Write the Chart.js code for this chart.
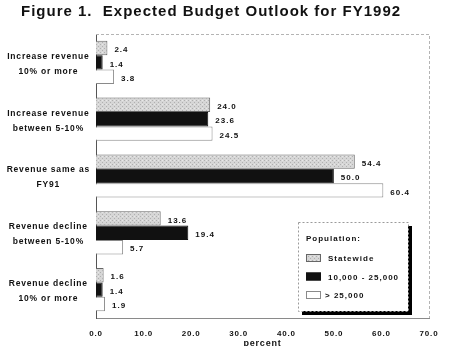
<!DOCTYPE html>
<html>
<head>
<meta charset="utf-8">
<script src="https://cdn.jsdelivr.net/npm/chart.js@4"></script>
<style>
  html, body { margin: 0; padding: 0; background: #fff; }
</style>
</head>
<body>
<canvas id="chart" width="450" height="346"></canvas>
<script>
// Data
const categories = [
    ['Increase revenue', '10% or more'],
    ['Increase revenue', 'between 5-10%'],
    ['Revenue same as', 'FY91'],
    ['Revenue decline', 'between 5-10%'],
    ['Revenue decline', '10% or more']
];
const seriesNames = ['Statewide', '10,000 - 25,000', '> 25,000'];
const statewide = [2.4, 24.0, 54.4, 13.6, 1.6];
const midTowns = [1.4, 23.6, 50.0, 19.4, 1.4];
const bigTowns = [3.8, 24.5, 60.4, 5.7, 1.9];
const xMin = 0, xMax = 70, xStep = 10;
const chartTitle = 'Figure 1.  Expected Budget Outlook for FY1992';

const FONT = "'Liberation Sans', Arial, sans-serif";

// stippled grey fill for the statewide bars
function stipple() {
    const c = document.createElement('canvas');
    c.width = 4; c.height = 4;
    const g = c.getContext('2d');
    g.fillStyle = '#d6d6d6';
    g.fillRect(0, 0, 4, 4);
    g.fillStyle = '#b0b0b0';
    g.fillRect(0, 0, 1, 1);
    g.fillRect(2, 2, 1, 1);
    g.fillStyle = '#e8e8e8';
    g.fillRect(2, 0, 1, 1);
    return g.createPattern(c, 'repeat');
}
const greyFill = stipple();

const spacing = {
    id: 'spacing',
    beforeLayout(chart) { chart.ctx.letterSpacing = '0.8px'; },
    beforeDraw(chart) { chart.ctx.letterSpacing = '0.8px'; }
};

const titleText = {
    id: 'titleText',
    afterDraw(chart) {
        const ctx = chart.ctx;
        ctx.save();
        ctx.letterSpacing = '1px';
        ctx.font = 'bold 15px ' + FONT;
        ctx.fillStyle = '#111';
        ctx.textBaseline = 'middle';
        ctx.fillText(chartTitle, 21, 12);
        ctx.restore();
    }
};

const frame = {
    id: 'frame',
    beforeDatasetsDraw(chart) {
        const { ctx, chartArea: a } = chart;
        ctx.save();
        ctx.strokeStyle = '#b4b4b4';
        ctx.lineWidth = 1;
        ctx.setLineDash([3, 2]);
        ctx.beginPath();
        ctx.moveTo(a.left, a.top + 0.5);
        ctx.lineTo(a.right + 0.5, a.top + 0.5);
        ctx.lineTo(a.right + 0.5, a.bottom);
        ctx.stroke();
        ctx.restore();
    }
};

const valueLabels = {
    id: 'valueLabels',
    afterDatasetsDraw(chart) {
        const ctx = chart.ctx;
        ctx.save();
        ctx.letterSpacing = '1px';
        ctx.font = 'bold 8px ' + FONT;
        ctx.fillStyle = '#111';
        ctx.textAlign = 'left';
        ctx.textBaseline = 'middle';
        chart.data.datasets.forEach((ds, i) => {
            chart.getDatasetMeta(i).data.forEach((bar, j) => {
                ctx.fillText(ds.data[j].toFixed(1), bar.x + 7, bar.y + 2);
            });
        });
        ctx.restore();
    }
};

const boxLegend = {
    id: 'boxLegend',
    afterDraw(chart) {
        const { ctx, chartArea: a } = chart;
        const right = a.right - 21, bottom = a.bottom - 7;
        const w = 110, h = 89;
        const left = right - w, top = bottom - h;
        ctx.save();
        ctx.fillStyle = '#000';
        ctx.fillRect(left + 4, top + 4, w, h);
        ctx.fillStyle = '#fff';
        ctx.fillRect(left, top, w, h);
        ctx.strokeStyle = '#9a9a9a';
        ctx.setLineDash([2, 2]);
        ctx.strokeRect(left + 0.5, top + 0.5, w, h);
        ctx.setLineDash([]);
        ctx.letterSpacing = '1px';
        ctx.font = 'bold 8px ' + FONT;
        ctx.fillStyle = '#111';
        ctx.textBaseline = 'middle';
        ctx.fillText('Population:', left + 8, top + 17);
        chart.data.datasets.forEach((ds, i) => {
            const y = top + 36 + i * 18.5;
            ctx.fillStyle = ds.backgroundColor;
            ctx.fillRect(left + 8, y - 4, 15, 8);
            ctx.strokeStyle = ds.borderColor;
            ctx.lineWidth = 1;
            ctx.strokeRect(left + 8.5, y - 3.5, 14, 7);
            ctx.fillStyle = '#111';
            ctx.fillText(ds.label, left + (i === 2 ? 27 : 30), y + 1);
        });
        ctx.restore();
    }
};

new Chart(document.getElementById('chart'), {
    type: 'bar',
    data: {
        labels: categories,
        datasets: [
            { label: seriesNames[0], data: statewide, backgroundColor: greyFill, borderColor: '#666', borderWidth: 1 },
            { label: seriesNames[1], data: midTowns, backgroundColor: '#111', borderColor: '#111', borderWidth: 1 },
            { label: seriesNames[2], data: bigTowns, backgroundColor: '#fff', borderColor: '#8a8a8a', borderWidth: 1 }
        ]
    },
    options: {
        indexAxis: 'y',
        responsive: false,
        animation: false,
        categoryPercentage: 0.76,
        barPercentage: 1.0,
        layout: { padding: { left: 0, right: 21, top: 34, bottom: 0 } },
        scales: {
            x: {
                min: xMin,
                max: xMax,
                afterFit: s => { s.height = 28; },
                grid: { display: false, drawTicks: false },
                border: { display: true, color: '#8a8a8a' },
                ticks: {
                    stepSize: xStep,
                    padding: 11,
                    color: '#111',
                    font: { family: FONT, size: 8, weight: 'bold' },
                    callback: v => v.toFixed(1)
                },
                title: {
                    display: true,
                    text: 'percent',
                    color: '#111',
                    padding: { top: 0, bottom: -3 },
                    font: { family: FONT, size: 9, weight: 'bold' }
                }
            },
            y: {
                afterFit: s => { s.width = 96; },
                grid: { display: false, drawTicks: false },
                border: { display: true, color: '#555' },
                ticks: {
                    crossAlign: 'center',
                    padding: 6,
                    labelOffset: 1.5,
                    color: '#111',
                    font: { family: FONT, size: 8.5, weight: 'bold', lineHeight: 1.76 }
                }
            }
        },
        plugins: {
            legend: { display: false },
            tooltip: { enabled: false },
            title: { display: false }
        }
    },
    plugins: [spacing, titleText, frame, valueLabels, boxLegend]
});
</script>
</body>
</html>
